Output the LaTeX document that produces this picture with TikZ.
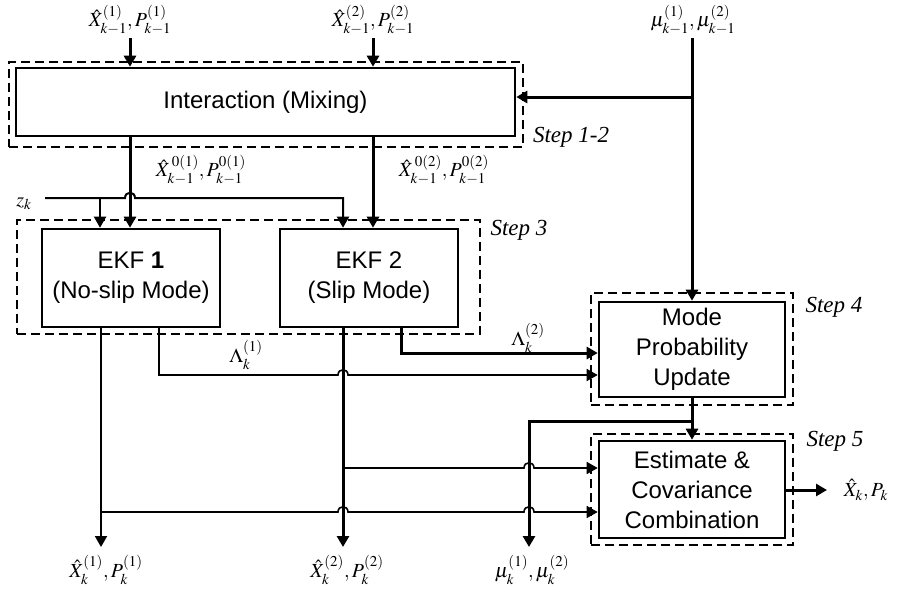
\documentclass[tikz,border=0pt]{standalone}
\usepackage{mathptmx}
\usepackage{fontspec}
\setmainfont{Liberation Serif}
\newfontfamily\sansf{Liberation Sans}
\usetikzlibrary{arrows.meta}
\DeclareMathSizes{20}{20}{15}{11}
\begin{document}
\begin{tikzpicture}[x=1pt,y=-1pt,
  box/.style={draw, line width=2.6pt, align=center, inner sep=0pt,
    font=\sansf\fontsize{24}{30}\selectfont},
  dbox/.style={draw, line width=1.4pt, dash pattern=on 9pt off 5pt, inner sep=0pt},
  thk/.style={line width=3pt},
  med/.style={line width=2pt},
  thn/.style={line width=1.6pt},
  arr/.style={-{Triangle[length=11pt,width=12pt]}},
  mlabel/.style={inner sep=0pt, font=\fontsize{20}{24}\selectfont},
  steplbl/.style={inner sep=0pt, font=\itshape\fontsize{23}{26}\selectfont}]
\fill[white] (0,0) rectangle (903,590);
\useasboundingbox (0,0) rectangle (903,590);

% dashed step frames
\node[dbox, minimum width=514pt, minimum height=85pt] (s12) at (266,104.5) {};
\node[dbox, minimum width=463pt, minimum height=114pt] (s3) at (248.5,277) {};
\node[dbox, minimum width=202pt, minimum height=112pt] (s4) at (692,349) {};
\node[dbox, minimum width=202pt, minimum height=111pt] (s5) at (692,489.5) {};

% boxes
\node[box, minimum width=499pt, minimum height=68pt] (mix) at (265.5,102) {Interaction (Mixing)};
\node[box, minimum width=178pt, minimum height=98pt] (ekf1) at (131,278) {EKF \textbf{1}\\(No-slip Mode)};
\node[box, minimum width=178pt, minimum height=98pt] (ekf2) at (369,278) {EKF 2\\(Slip Mode)};
\node[box, minimum width=186pt, minimum height=95pt] (mode) at (692,349.5) {Mode\\Probability\\Update};
\node[box, minimum width=186pt, minimum height=97pt] (est) at (692,489.5) {Estimate \&\\Covariance\\Combination};

% step labels
\node[steplbl] (t12) at (571,137) {Step 1-2};
\node[steplbl] (t3) at (519,230) {Step 3};
\node[steplbl] (t4) at (834,307) {Step 4};
\node[steplbl] (t5) at (835,441) {Step 5};

% math labels
\node[mlabel] (lin1) at (130,20) {$\hat{X}_{k-1}^{(1)},P_{k-1}^{(1)}$};
\node[mlabel] (lin2) at (373,20) {$\hat{X}_{k-1}^{(2)},P_{k-1}^{(2)}$};
\node[mlabel] (lmu) at (693,20) {$\mu_{k-1}^{(1)},\mu_{k-1}^{(2)}$};
\node[mlabel] (lx01) at (201,170) {$\hat{X}_{k-1}^{\,0(1)},P_{k-1}^{0(1)}$};
\node[mlabel] (lx02) at (444,170) {$\hat{X}_{k-1}^{\,0(2)},P_{k-1}^{0(2)}$};
\node[mlabel] (lzk) at (24,204) {$z_k$};
\node[mlabel] (ll1) at (246,355) {$\Lambda_k^{(1)}$};
\node[mlabel] (ll2) at (528,338) {$\Lambda_k^{(2)}$};
\node[mlabel] (lo1) at (106,570) {$\hat{X}_k^{(1)},P_k^{(1)}$};
\node[mlabel] (lo2) at (347,570) {$\hat{X}_k^{(2)},P_k^{(2)}$};
\node[mlabel] (lmuk) at (532,570) {$\mu_k^{(1)},\mu_k^{(2)}$};
\node[mlabel] (lout) at (866,490) {$\hat{X}_k,P_k$};

% coordinates
\coordinate (in1) at (130,38);
\coordinate (in2) at (373,38);
\coordinate (mu0) at (692,38);
\coordinate (j1) at (692,97);
\coordinate (z0) at (45,198);
\coordinate (zb) at (100,198);
\coordinate (zc) at (343,198);
\coordinate (e1a) at (101,327);
\coordinate (e1b) at (159,327);
\coordinate (e2a) at (343,327);
\coordinate (e2b) at (401,327);
\coordinate (o1) at (101,547);
\coordinate (o2) at (343,547);
\coordinate (mk) at (529,547);
\coordinate (br) at (692,421);

% top inputs
\draw[thk,arr] (in1) -- (in1 |- mix.north);
\draw[thk,arr] (in2) -- (in2 |- mix.north);
\draw[thk,arr] (mu0) -- (mode.north);
\draw[thk,arr] (j1) -- (j1 -| mix.east);

% mixing to EKFs
\draw[thk,arr] (in1 |- mix.south) -- (in1 |- ekf1.north);
\draw[thk,arr] (in2 |- mix.south) -- (in2 |- ekf2.north);

% z_k
\draw[med,arr] (z0) -- (125,198) .. controls (125,191) and (135,191) .. (135,198) -- (zc) -- (zc |- ekf2.north);
\draw[med,arr] (zb) -- (zb |- ekf1.north);

% EKF outputs
\draw[med,arr] (e1a) -- (o1);
\draw[thk,arr] (e2a) -- (o2);
\draw[thn,arr] (e1b) -- (159,375) -- (338,375) .. controls (338,368) and (348,368) .. (348,375) -- (mode.west |- 0,375);
\draw[thk,arr] (e2b) -- (401,353) -- (mode.west |- 0,353);

% to estimate box
\draw[thn,arr] (343,468) -- (524,468) .. controls (524,461) and (534,461) .. (534,468) -- (est.west |- 0,468);
\draw[thn,arr] (101,512) -- (338,512) .. controls (338,505) and (348,505) .. (348,512)
  -- (524,512) .. controls (524,505) and (534,505) .. (534,512) -- (est.west |- 0,512);

% mode to estimate
\draw[thk,arr] (mode.south) -- (est.north);
\draw[thk,arr] (br) -- (529,421) -- (mk);

% output
\draw[thk,arr] (est.east |- 0,490) -- (827,490);
\end{tikzpicture}
\end{document}
